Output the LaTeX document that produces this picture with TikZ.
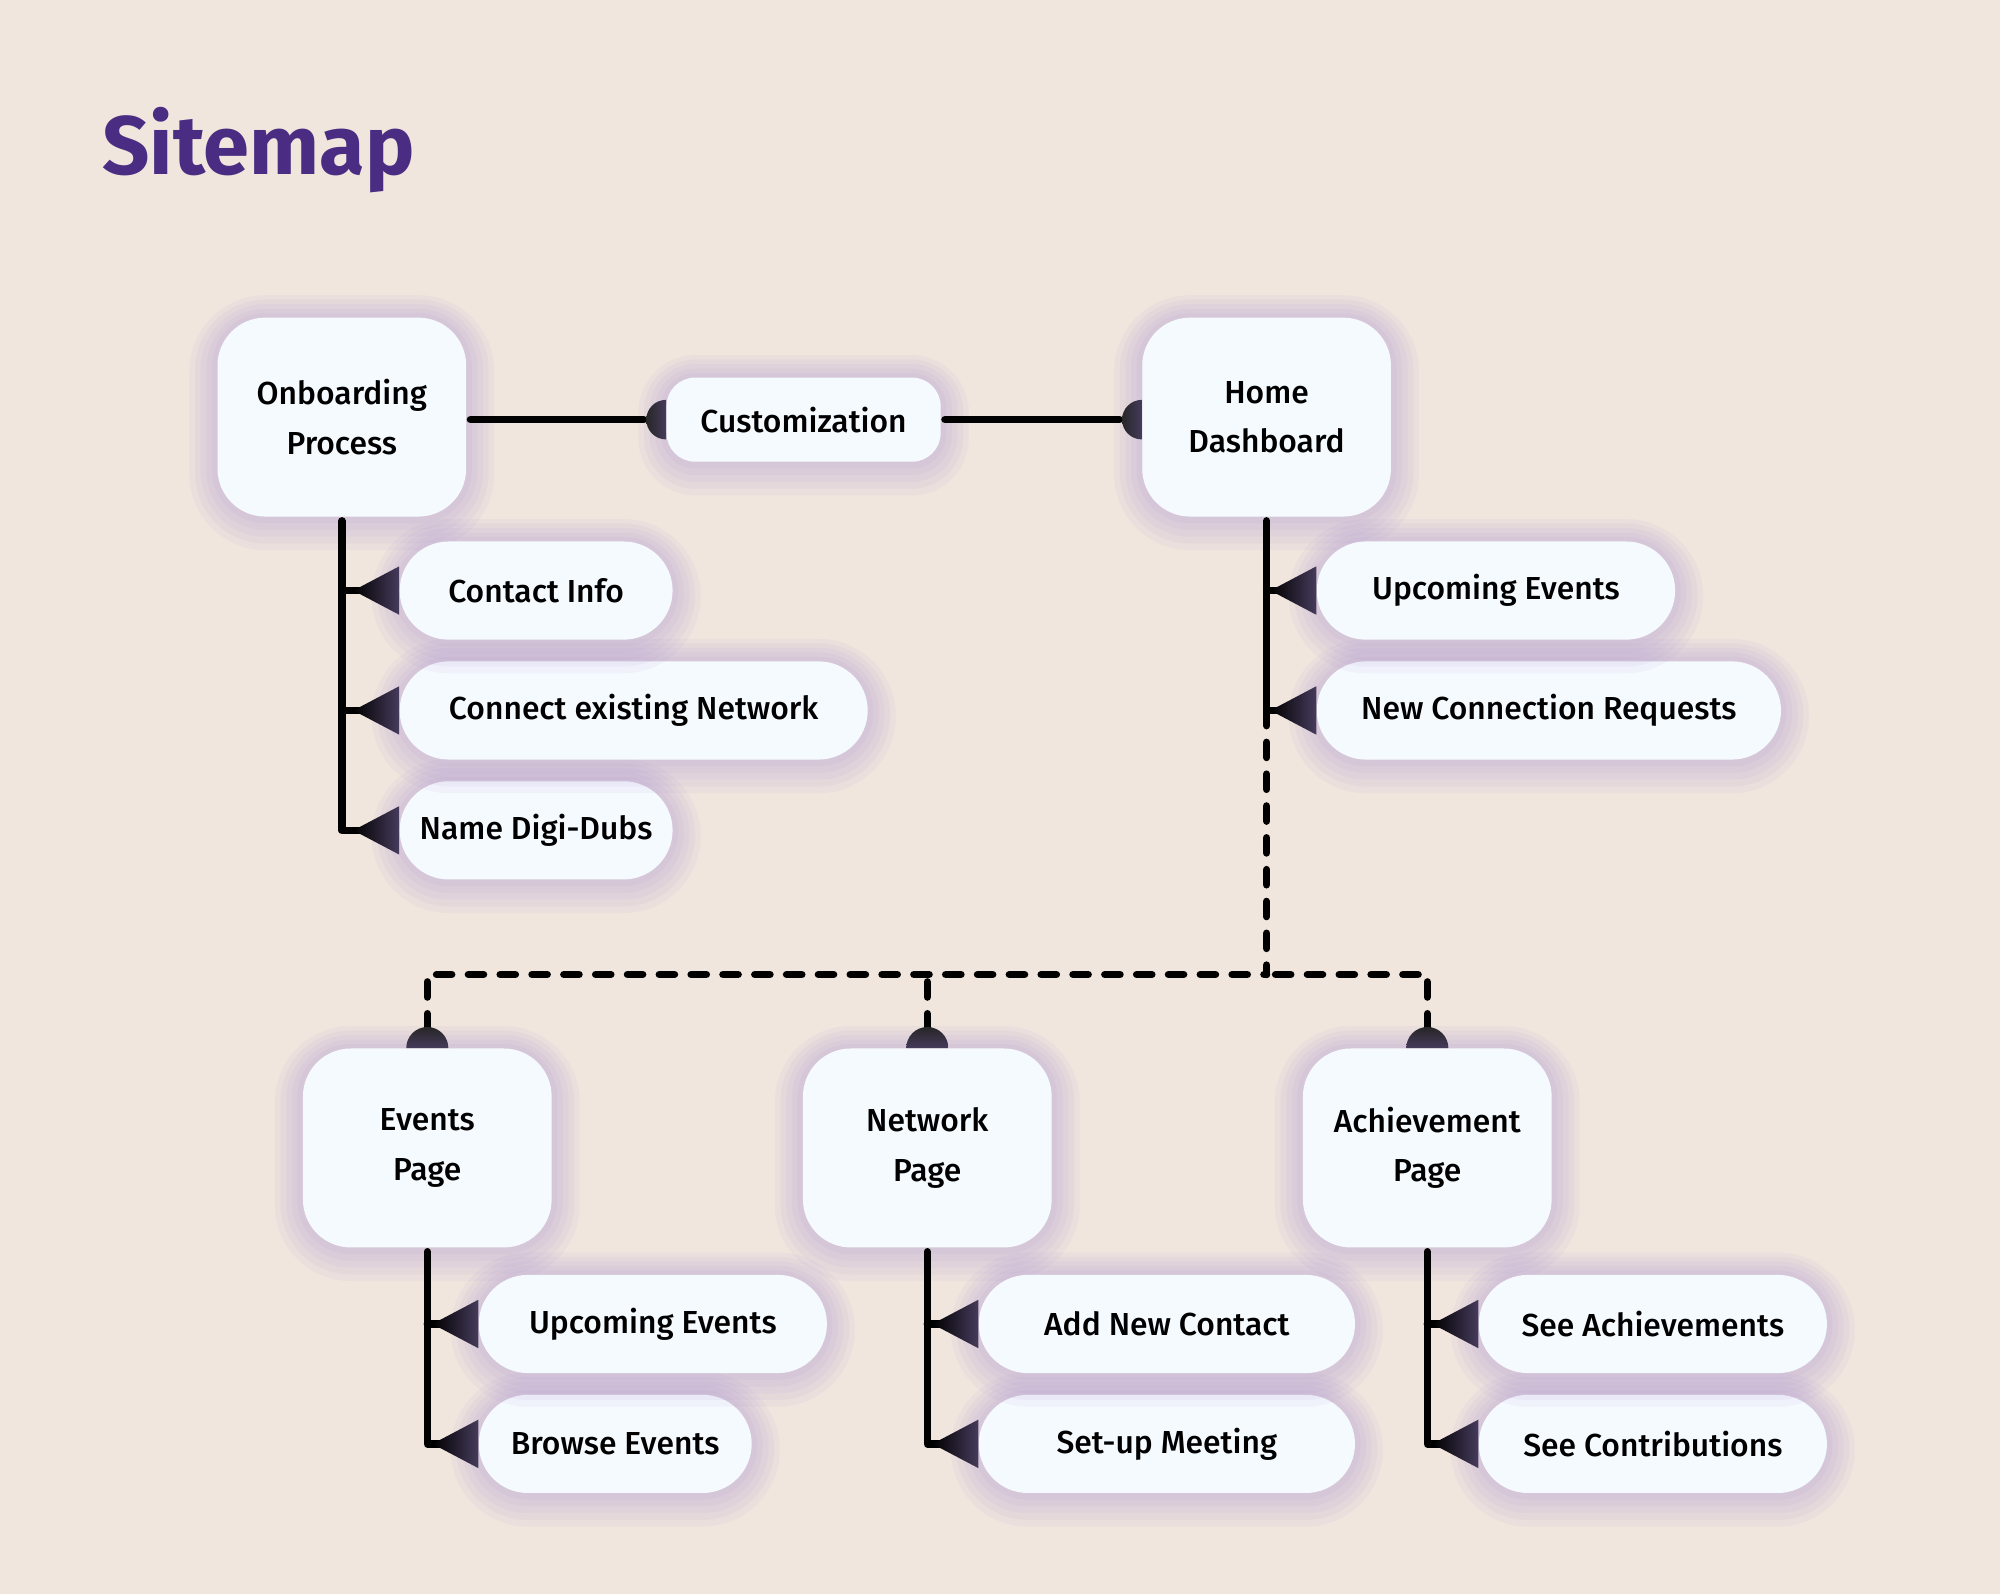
\documentclass[tikz,border=0pt]{standalone}
\usepackage{fontspec}
\setmainfont{Fira Sans}[UprightFont=* Medium, BoldFont=* Bold]
\usetikzlibrary{positioning}
\definecolor{bgc}{HTML}{F0E6DD}
\definecolor{boxc}{HTML}{F5FAFF}
\definecolor{glowc}{HTML}{A58CD4}
\definecolor{titlec}{HTML}{4A2D82}
\definecolor{capc}{HTML}{463B5C}
\tikzset{
  glowring/.style 2 args={preaction={draw=glowc, line width=#1, draw opacity=0.075,
    line join=round, transform canvas={yshift=#2}}},
  glow/.style={glowring={25pt}{-2.5pt}, glowring={20pt}{-2pt}, glowring={15pt}{-1.5pt},
    glowring={10pt}{-1pt}, glowring={5pt}{-0.5pt}},
  pagebox/.style={glow, fill=boxc, rounded corners=0.75cm, minimum width=3.9cm,
    minimum height=3.12cm, inner sep=0pt, align=center,
    font=\fontsize{14.2}{22}\selectfont},
  leaf/.style={glow, fill=boxc, rounded corners=0.77cm, minimum height=1.54cm,
    inner sep=0pt, anchor=west, font=\fontsize{14.2}{22}\selectfont},
  wire/.style={line width=3.3pt, line join=round, line cap=round, shorten <=1.7pt},
  branch/.style={wire, shorten >=0.35cm},
  dashwire/.style={wire, dash pattern=on 6.8pt off 7.4pt},
  tipfill/.style={left color=black, right color=capc},
  capfill/.style={top color=black!85, bottom color=capc},
}
\begin{document}
\begin{tikzpicture}[x=0.02cm, y=-0.02cm]
  \path[use as bounding box, fill=bgc] (0,0) rectangle (1568,1250);
  \node[anchor=base west, inner sep=0pt, text=titlec, font=\bfseries\fontsize{37}{44}\selectfont] (ttl) at (80,137) {Sitemap};

  % top row
  \node[pagebox] (onb) at (268,327) {Onboarding\\Process};
  \node[glow, fill=boxc, rounded corners=0.45cm, minimum width=4.3cm, minimum height=1.32cm,
    font=\fontsize{14.2}{22}\selectfont] (cust) at (630,329) {Customization};
  \node[pagebox] (home) at (993,327) {Home\\Dashboard};

  \node[leaf, minimum width=4.28cm] (dig) at (313,651) {Name Digi-Dubs};
  \node[leaf, minimum width=7.34cm] (conn) at (313,557) {Connect existing Network};
  \node[leaf, minimum width=4.28cm] (cinfo) at (313,463) {Contact Info};

  \node[leaf, minimum width=7.28cm] (newreq) at (1032,557) {New Connection Requests};
  \node[leaf, minimum width=5.62cm] (upe) at (1032,463) {Upcoming Events};

  % bottom row
  \node[pagebox] (evp) at (335,900) {Events\\Page};
  \node[pagebox] (netp) at (727,900) {Network\\Page};
  \node[pagebox] (ach) at (1119,900) {Achievement\\Page};

  \node[leaf, minimum width=4.28cm] (brw) at (375,1132) {Browse Events};
  \node[leaf, minimum width=5.46cm] (upe2) at (375,1038) {Upcoming Events};
  \node[leaf, minimum width=5.9cm] (setm) at (767,1132) {Set-up Meeting};
  \node[leaf, minimum width=5.9cm] (addc) at (767,1038) {Add New Contact};
  \node[leaf, minimum width=5.46cm] (seec) at (1159,1132) {See Contributions};
  \node[leaf, minimum width=5.46cm] (seea) at (1159,1038) {See Achievements};

  \coordinate (bus) at (993,764);

  % connectors
  \draw[branch] (onb.east |- cust) -- (cust.west);
  \draw[branch] (cust.east) -- (home.west |- cust);
  \draw[branch] (onb.south) |- (dig.west);
  \draw[branch, shorten <=0pt] (onb.south |- cinfo) -- (cinfo.west);
  \draw[branch, shorten <=0pt] (onb.south |- conn) -- (conn.west);
  \draw[branch] (home.south) |- (newreq.west);
  \draw[branch, shorten <=0pt] (home.south |- upe) -- (upe.west);
  \draw[dashwire, shorten <=0pt] (home.south |- newreq) -- (bus);
  \draw[dashwire, shorten <=0.3cm] (evp.north) |- (bus);
  \draw[dashwire, shorten <=0.3cm] (ach.north) |- (bus);
  \draw[dashwire, shorten <=0.3cm] (netp.north) -- (netp.north |- bus);
  \draw[branch] (evp.south) |- (brw.west);
  \draw[branch, shorten <=0pt] (evp.south |- upe2) -- (upe2.west);
  \draw[branch] (netp.south) |- (setm.west);
  \draw[branch, shorten <=0pt] (netp.south |- addc) -- (addc.west);
  \draw[branch] (ach.south) |- (seec.west);
  \draw[branch, shorten <=0pt] (ach.south |- seea) -- (seea.west);

  % end marks
  \foreach \n in {cinfo,conn,dig,upe,newreq,upe2,brw,addc,setm,seea,seec}
    \shade[tipfill] (\n.west) ++(0,0.38cm) -- ++(-0.72cm,-0.38cm) -- ++(0.72cm,-0.38cm) -- cycle;
  \foreach \n in {cust,home}
    \shade[left color=black!85, right color=capc] (\n.west |- cust) ++(0,0.31cm) arc (90:270:0.31cm) -- cycle;
  \foreach \n in {evp,netp,ach}
    \shade[capfill] (\n.north) ++(0.33cm,0) arc (0:180:0.33cm) -- cycle;
\end{tikzpicture}
\end{document}
